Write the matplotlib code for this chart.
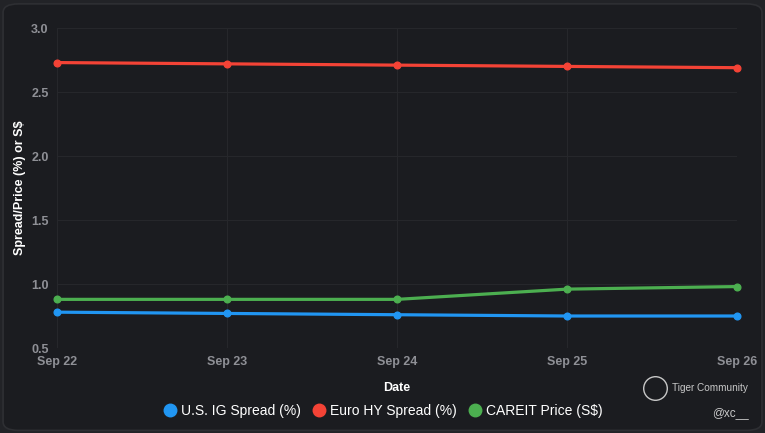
import matplotlib.pyplot as plt
from matplotlib.patches import FancyBboxPatch
from matplotlib.lines import Line2D

plt.rcParams['font.family'] = ['Liberation Sans', 'DejaVu Sans']

# data
dates = ['Sep 22', 'Sep 23', 'Sep 24', 'Sep 25', 'Sep 26']
us_ig = [0.78, 0.77, 0.76, 0.75, 0.75]
euro_hy = [2.73, 2.72, 2.71, 2.70, 2.69]
careit = [0.88, 0.88, 0.88, 0.96, 0.98]
y_ticks = [0.5, 1.0, 1.5, 2.0, 2.5, 3.0]

series_names = ['U.S. IG Spread (%)', 'Euro HY Spread (%)', 'CAREIT Price (S$)']
colors = ['#2196f3', '#f44336', '#4caf50']

bg = '#1b1c20'
fig = plt.figure(figsize=(7.65, 4.33), dpi=100)
fig.patch.set_facecolor('#222327')
# rounded panel behind everything
panel = FancyBboxPatch((0.004, 0.006), 0.992, 0.985, boxstyle='round,pad=0,rounding_size=0.02',
                       transform=fig.transFigure, facecolor=bg, edgecolor='#2e2f33', linewidth=1.2,
                       zorder=-10)
fig.patches.append(panel)

ax = fig.add_axes([0.0745, 0.1963, 0.889, 0.739])
ax.set_facecolor(bg)
x = list(range(len(dates)))
for vals, c, name in zip([us_ig, euro_hy, careit], colors, series_names):
    ax.plot(x, vals, color=c, linewidth=2.3, marker='o', markersize=4.8, label=name, clip_on=False)

ax.set_xlim(0, len(dates) - 1)
ax.set_ylim(0.5, 3.0)
ax.set_xticks(x)
ax.set_xticklabels(dates)
ax.set_yticks(y_ticks)
ax.set_yticklabels(['%.1f' % v for v in y_ticks])
ax.tick_params(colors='#8f9096', labelsize=9, length=0, pad=6)
for lbl in ax.get_xticklabels() + ax.get_yticklabels():
    lbl.set_fontweight('bold')
ax.grid(True, color='#26272b', linewidth=0.8)
for s in ax.spines.values():
    s.set_visible(False)

ax.set_xlabel('Date', color='white', fontsize=9, fontweight='bold', labelpad=10)
ax.set_ylabel('Spread/Price (%) or S$', color='white', fontsize=9, fontweight='bold', labelpad=4)

handles = [Line2D([], [], linestyle='none', marker='o', markersize=9, color=c) for c in colors]
fig.legend(handles, series_names, loc='center', bbox_to_anchor=(0.5, 0.05), ncol=3, frameon=False,
           fontsize=10, labelcolor='white', handletextpad=0.3, columnspacing=0.8, handlelength=1.0)

# watermark
fig.add_artist(Line2D([0.856], [0.104], transform=fig.transFigure, marker='o', markersize=17,
                      markerfacecolor='none', markeredgecolor='#c8c8c8', markeredgewidth=1.0))
fig.text(0.878, 0.104, 'Tiger Community', color='#c8c8c8', fontsize=7.2, va='center')
fig.text(0.931, 0.046, '@xc__', color='#c8c8c8', fontsize=8.5, va='center')

fig.savefig('out.png', dpi=100, facecolor=fig.get_facecolor())
